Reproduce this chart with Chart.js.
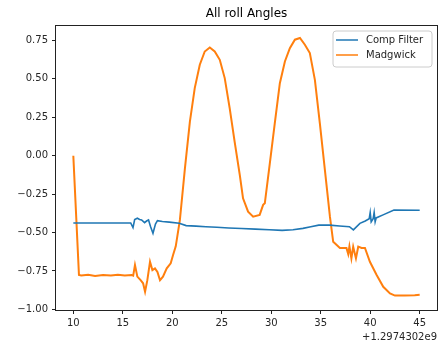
<!DOCTYPE html>
<html>
<head>
<meta charset="utf-8">
<script src="https://cdn.jsdelivr.net/npm/chart.js@4/dist/chart.umd.min.js"></script>
<style>
  html, body { margin: 0; padding: 0; background: #fff; }
  #wrap { width: 441px; height: 347px; }
</style>
</head>
<body>
<div id="wrap"><canvas id="c" width="441" height="347"></canvas></div>
<script>
// Timestamps are seconds relative to TIME_OFFSET
const TIME_OFFSET_LABEL = '+1.2974302e9';

const compTime = [10.0, 15.8, 16.03, 16.2, 16.47, 16.7, 16.9, 17.2, 17.4, 17.6, 17.8, 18.05, 18.3, 18.5,
  19.0, 19.7, 20.7, 21.4, 22.4, 23.4, 24.5, 25.7, 27.0, 28.4, 29.8, 31.1, 32.2, 33.2, 34.0, 34.8,
  35.9, 36.9, 37.9, 38.3, 38.96, 39.5, 39.9, 40.0, 40.1, 40.3, 40.4, 40.5, 40.6, 41.3, 42.4, 45.0];
const compRoll = [-0.438, -0.438, -0.468, -0.415, -0.407, -0.415, -0.418, -0.436, -0.425, -0.418, -0.46, -0.505, -0.445, -0.423,
  -0.428, -0.432, -0.44, -0.455, -0.458, -0.462, -0.466, -0.47, -0.474, -0.478, -0.482, -0.486, -0.482, -0.473, -0.462, -0.452,
  -0.452, -0.457, -0.462, -0.483, -0.44, -0.425, -0.41, -0.37, -0.43, -0.41, -0.37, -0.43, -0.405, -0.385, -0.353, -0.355];

const madgTime = [10.0, 10.57, 10.8, 11.5, 12.2, 13.0, 13.8, 14.5, 15.2, 15.9, 16.05, 16.23, 16.47, 16.8, 17.05,
  17.25, 17.48, 17.75, 17.99, 18.25, 18.5, 18.76, 19.06, 19.44, 19.84, 20.08, 20.35, 20.77, 21.28,
  21.78, 22.27, 22.78, 23.28, 23.79, 24.29, 24.8, 25.3, 25.8, 26.3, 26.82, 27.15, 27.66, 28.17, 28.83,
  29.18, 29.35, 29.86, 30.36, 30.87, 31.38, 31.88, 32.39, 32.9, 33.4, 33.9, 34.41, 34.91, 35.42, 35.93,
  36.26, 36.94, 37.44, 37.6, 37.78, 37.9, 38.1, 38.28, 38.56, 38.79, 39.13, 39.47, 39.97, 40.65,
  41.32, 42.0, 42.5, 43.5, 44.5, 45.0];
const madgRoll = [0.0, -0.776, -0.78, -0.775, -0.782, -0.776, -0.78, -0.774, -0.78, -0.776, -0.78, -0.711, -0.787, -0.81, -0.83,
  -0.885, -0.81, -0.69, -0.744, -0.733, -0.757, -0.81, -0.787, -0.733, -0.70, -0.646, -0.59, -0.418, -0.081,
  0.222, 0.44, 0.592, 0.678, 0.704, 0.678, 0.624, 0.505, 0.31, 0.092, -0.125, -0.277, -0.364, -0.397, -0.385,
  -0.32, -0.31, -0.049, 0.212, 0.472, 0.613, 0.70, 0.755, 0.766, 0.722, 0.668, 0.494, 0.212, -0.092, -0.397,
  -0.56, -0.60, -0.60, -0.60, -0.64, -0.59, -0.668, -0.592, -0.668, -0.592, -0.60, -0.60, -0.69, -0.776,
  -0.853, -0.896, -0.91, -0.91, -0.908, -0.905];

const xTicks = [10, 15, 20, 25, 30, 35, 40, 45];
const yTicks = [-1.00, -0.75, -0.50, -0.25, 0.00, 0.25, 0.50, 0.75];

const seriesNames = ['Comp Filter', 'Madgwick'];
const seriesColors = ['#1f77b4', '#ff7f0e'];

const FONT = "'DejaVu Sans', sans-serif";

function pairs(xs, ys) { return xs.map((x, i) => ({ x: x, y: ys[i] })); }
function fmtY(v) { const s = Math.abs(v).toFixed(2); return (v < 0 ? '\u2212' : '') + s; }

const decor = {
  id: 'decor',
  afterDraw(chart) {
    const ctx = chart.ctx, a = chart.chartArea;
    ctx.save();
    // frame around plot area
    ctx.strokeStyle = '#222';
    ctx.lineWidth = 1;
    ctx.strokeRect(Math.round(a.left) - 0.5, Math.round(a.top) - 0.5,
      Math.round(a.right - a.left) + 1, Math.round(a.bottom - a.top) + 1);
    // title
    ctx.fillStyle = '#000';
    ctx.font = '12px ' + FONT;
    ctx.textAlign = 'center';
    ctx.textBaseline = 'middle';
    ctx.fillText('All roll Angles', (a.left + a.right) / 2, 14);
    // axis offset text
    ctx.font = '10px ' + FONT;
    ctx.textAlign = 'right';
    ctx.fillStyle = '#262626';
    ctx.fillText(TIME_OFFSET_LABEL, a.right, 337);
    // legend
    const bx = a.right - 104, by = a.top + 5, bw = 99, bh = 36, r = 3;
    ctx.beginPath();
    ctx.moveTo(bx + r, by);
    ctx.arcTo(bx + bw, by, bx + bw, by + bh, r);
    ctx.arcTo(bx + bw, by + bh, bx, by + bh, r);
    ctx.arcTo(bx, by + bh, bx, by, r);
    ctx.arcTo(bx, by, bx + bw, by, r);
    ctx.closePath();
    ctx.fillStyle = 'rgba(255,255,255,0.8)';
    ctx.fill();
    ctx.strokeStyle = '#cccccc';
    ctx.stroke();
    ctx.textAlign = 'left';
    seriesNames.forEach((name, i) => {
      const y = by + 9 + i * 15;
      ctx.strokeStyle = seriesColors[i];
      ctx.lineWidth = 1.5;
      ctx.beginPath();
      ctx.moveTo(bx + 3, y);
      ctx.lineTo(bx + 25, y);
      ctx.stroke();
      ctx.fillStyle = '#262626';
      ctx.fillText(name, bx + 33, y);
    });
    ctx.restore();
  }
};

new Chart(document.getElementById('c'), {
  type: 'line',
  data: {
    datasets: [
      { label: seriesNames[0], data: pairs(compTime, compRoll), borderColor: seriesColors[0], borderWidth: 1.6, pointRadius: 0, tension: 0, fill: false },
      { label: seriesNames[1], data: pairs(madgTime, madgRoll), borderColor: seriesColors[1], borderWidth: 2, pointRadius: 0, tension: 0, fill: false }
    ]
  },
  options: {
    responsive: false,
    animation: false,
    events: [],
    layout: { padding: { left: 0, right: 4, top: 26, bottom: 0 } },
    plugins: { legend: { display: false }, title: { display: false }, tooltip: { enabled: false } },
    scales: {
      x: {
        type: 'linear',
        min: 8.25, max: 46.75,
        afterBuildTicks: s => { s.ticks = xTicks.map(v => ({ value: v })); },
        afterFit: s => { s.height = 37; },
        grid: { drawOnChartArea: false, drawTicks: true, tickLength: 4, color: '#222' },
        border: { display: false },
        ticks: { color: '#262626', font: { family: FONT, size: 10 }, padding: 3, maxRotation: 0, callback: v => String(v) }
      },
      y: {
        type: 'linear',
        min: -1.004, max: 0.844,
        afterBuildTicks: s => { s.ticks = yTicks.map(v => ({ value: v })); },
        afterFit: s => { s.width = 56; },
        grid: { drawOnChartArea: false, drawTicks: true, tickLength: 4, color: '#222' },
        border: { display: false },
        ticks: { color: '#262626', font: { family: FONT, size: 10 }, padding: 4, callback: v => fmtY(v) }
      }
    }
  },
  plugins: [decor]
});
</script>
</body>
</html>
